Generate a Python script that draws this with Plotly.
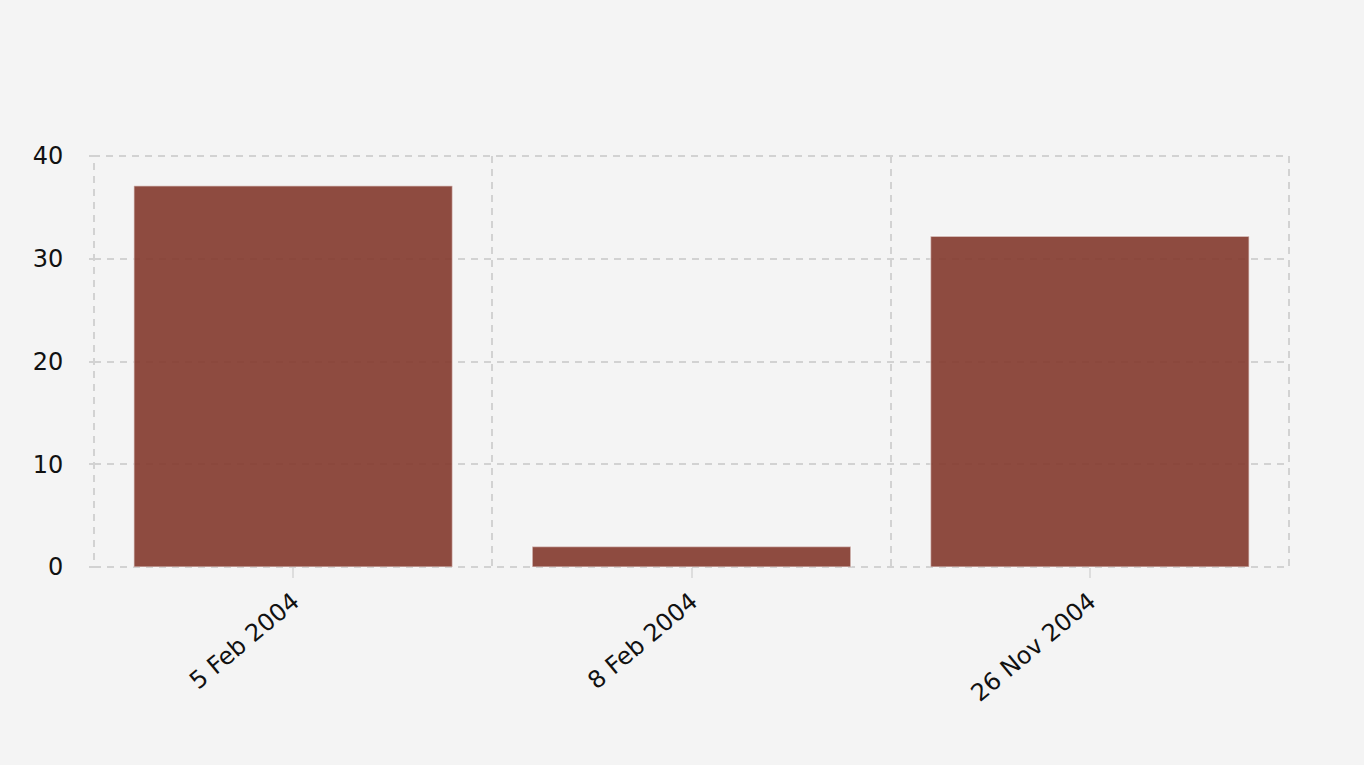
import plotly.graph_objects as go

# data
dates = ["5 Feb 2004", "8 Feb 2004", "26 Nov 2004"]
values = [37.1, 2.0, 32.2]
y_ticks = [0, 10, 20, 30, 40]

BG_COLOR = "#f4f4f4"
BAR_COLOR = "rgba(131,57,44,0.9)"     # ~#8e4c40 on the grey page, grid shows faintly through
GRID_COLOR = "#d2d2d2"
TEXT_COLOR = "#111111"
FONT_FAMILY = "DejaVu Sans, Verdana, sans-serif"
GRID_DASH = "7px,6px"

fig = go.Figure()
fig.add_trace(go.Bar(
    x=dates, y=values, width=0.8,
    marker=dict(color=BAR_COLOR, line=dict(color="rgba(255,255,255,0.5)", width=1.5)),
    showlegend=False,
))

# invisible helper axis so the vertical grid sits on category boundaries
fig.add_trace(go.Scatter(x=[-0.5, 2.5], y=[0, 0], xaxis="x2", mode="lines",
                         line=dict(width=0), hoverinfo="skip", showlegend=False))

# dashed frame round the plot area (plotly drops grid lines on the edges)
fig.add_shape(type="rect", xref="paper", yref="paper", x0=0, x1=1, y0=0, y1=1,
              line=dict(color=GRID_COLOR, width=2, dash=GRID_DASH), layer="below")

fig.update_layout(
    width=1364, height=765,
    paper_bgcolor=BG_COLOR, plot_bgcolor=BG_COLOR,
    font=dict(family=FONT_FAMILY, size=24, color=TEXT_COLOR),
    margin=dict(l=94, r=75, t=156, b=198),
    xaxis=dict(
        type="category", range=[-0.5, 2.5], showgrid=False, zeroline=False,
        ticks="outside", ticklen=10, tickwidth=1.5, tickcolor="#dddddd", tickangle=-40,
        showline=False,
    ),
    xaxis2=dict(
        overlaying="x", range=[-0.5, 2.5], tickvals=[-0.5, 0.5, 1.5, 2.5],
        showticklabels=False, showgrid=True, gridcolor=GRID_COLOR, griddash=GRID_DASH,
        gridwidth=2, zeroline=False, ticks="",
    ),
    yaxis=dict(
        range=[0, 40], tickvals=y_ticks, showgrid=True, gridcolor=GRID_COLOR,
        griddash=GRID_DASH, gridwidth=2, zeroline=False, ticks="outside", ticklen=4,
        tickwidth=2, tickcolor=GRID_COLOR, ticklabelstandoff=21,
    ),
)

fig.write_html("out.html", config={"displayModeBar": False},
               post_script="document.body.style.margin='0';")
